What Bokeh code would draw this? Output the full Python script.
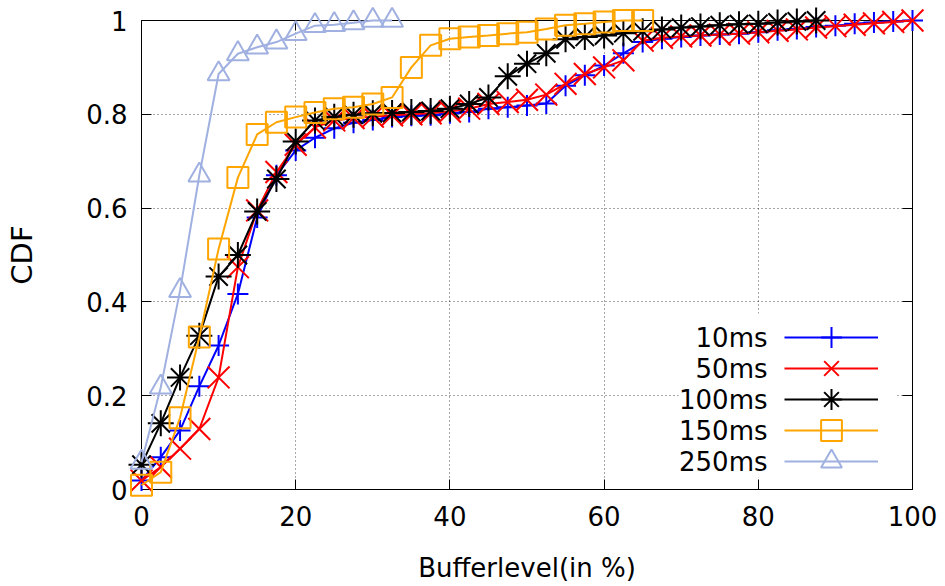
import math
from bokeh.plotting import figure
from bokeh.models import (Range1d, FixedTicker, LinearAxis, Legend, LegendItem,
                          Label, BoxAnnotation, Grid)
from bokeh.embed import file_html
from bokeh.resources import INLINE

# ---------------- data ----------------
buffer_level = [0, 2.5, 5, 7.5, 10, 12.5, 15, 17.5, 20, 22.5, 25, 27.5, 30, 32.5,
                35, 37.5, 40, 42.5, 45, 47.5, 50, 52.5, 55, 57.5, 60, 62.5, 65,
                67.5, 70, 72.5, 75, 77.5, 80, 82.5, 85, 87.5, 90, 92.5, 95, 97.5, 100]

cdf_10ms = [0.019, 0.069, 0.126, 0.220, 0.307, 0.417, 0.580, 0.670, 0.723, 0.750,
            0.770, 0.782, 0.788, 0.794, 0.797, 0.798, 0.802, 0.805, 0.812, 0.815,
            0.819, 0.823, 0.861, 0.883, 0.904, 0.930, 0.954, 0.961, 0.965, 0.968,
            0.970, 0.972, 0.975, 0.979, 0.982, 0.986, 0.989, 0.993, 0.996, 0.998, 1.000]
cdf_50ms = [0.019, 0.048, 0.087, 0.129, 0.239, 0.474, 0.595, 0.677, 0.735, 0.772,
            0.787, 0.792, 0.795, 0.798, 0.800, 0.802, 0.806, 0.812, 0.822, 0.826,
            0.831, 0.842, 0.865, 0.886, 0.900, 0.915, 0.957, 0.963, 0.966, 0.968,
            0.970, 0.972, 0.975, 0.978, 0.981, 0.985, 0.988, 0.991, 0.994, 0.997, 1.000]
cdf_100ms = [0.053, 0.141, 0.239, 0.328, 0.454, 0.500, 0.593, 0.662, 0.742, 0.787,
             0.795, 0.799, 0.802, 0.803, 0.805, 0.807, 0.812, 0.822, 0.836, 0.881,
             0.908, 0.930, 0.960, 0.965, 0.968, 0.973, 0.977, 0.981, 0.985, 0.987,
             0.990, 0.992, 0.993, 0.996, 0.998, 1.000]
cdf_150ms = [0.009, 0.037, 0.153, 0.325, 0.513, 0.665, 0.757, 0.783, 0.794, 0.804,
             0.812, 0.815, 0.822, 0.836, 0.900, 0.947, 0.961, 0.965, 0.968, 0.972,
             0.975, 0.982, 0.990, 0.993, 0.997, 1.000, 1.000]
cdf_250ms = [0.058, 0.218, 0.424, 0.670, 0.886, 0.929, 0.943, 0.954, 0.972, 0.989,
             0.991, 0.995, 1.000, 1.000]

series_names = ["10ms", "50ms", "100ms", "150ms", "250ms"]
series_values = [cdf_10ms, cdf_50ms, cdf_100ms, cdf_150ms, cdf_250ms]

x_ticks = [0, 20, 40, 60, 80, 100]
y_ticks = [0, 0.2, 0.4, 0.6, 0.8, 1]
y_tick_labels = ["0", "0.2", "0.4", "0.6", "0.8", "1"]
x_title = "Bufferlevel(in %)"
y_title = "CDF"

# ---------------- style ----------------
colors = ["#0000ff", "#ff0000", "#000000", "#ffa500", "#a0b0e0"]
markers = ["cross", "x", "asterisk", "square", "triangle"]
marker_sizes = [21, 31, 26, 21, 22]
FONT = "DejaVu Sans"

W, H = 945, 586
L, R, T, B = 141, 912, 20, 489   # axis box in canvas pixels
PAD = 16                           # extra frame so edge markers are not clipped
xpp = 100.0 / (R - L)
ypp = 1.0 / (B - T)
TICK = 10                          # inward tick length, px
FL, FB = L - PAD, B + PAD          # frame left / bottom in canvas px

p = figure(width=W, height=H, output_backend="svg", toolbar_location=None,
           x_range=Range1d(-PAD * xpp, 100 + PAD * xpp),
           y_range=Range1d(-PAD * ypp, 1 + PAD * ypp),
           x_axis_location=None, y_axis_location=None,
           min_border_left=FL, min_border_right=W - R - PAD,
           min_border_top=T - PAD, min_border_bottom=H - FB)
p.outline_line_color = None
p.background_fill_color = "white"
p.border_fill_color = "white"

# label-only axes at the frame edges
xb = LinearAxis(ticker=FixedTicker(ticks=x_ticks), axis_label=x_title,
                axis_line_color=None, major_tick_line_color=None,
                minor_tick_line_color=None, major_tick_in=0, major_tick_out=0,
                major_label_standoff=0,
                major_label_text_font=FONT, major_label_text_font_size="26px",
                major_label_text_color="black",
                axis_label_text_font=FONT, axis_label_text_font_size="26px",
                axis_label_text_font_style="normal", axis_label_text_color="black",
                axis_label_standoff=24)
yl = LinearAxis(ticker=FixedTicker(ticks=y_ticks), axis_label=y_title,
                axis_line_color=None, major_tick_line_color=None,
                minor_tick_line_color=None, major_tick_in=0, major_tick_out=0,
                major_label_standoff=PAD - (L - 123),
                major_label_overrides=dict(zip(y_ticks, y_tick_labels)),
                major_label_text_font=FONT, major_label_text_font_size="26px",
                major_label_text_color="black",
                axis_label_text_font=FONT, axis_label_text_font_size="29px",
                axis_label_text_font_style="normal", axis_label_text_color="black",
                axis_label_standoff=44)
p.add_layout(xb, "below")
p.add_layout(yl, "left")

# dotted grid restricted to the axis box
p.xgrid.ticker = FixedTicker(ticks=x_ticks)
p.ygrid.ticker = FixedTicker(ticks=y_ticks)
for g in (p.xgrid, p.ygrid):
    g.grid_line_color = "#222222"
    g.grid_line_alpha = 0.8
    g.grid_line_width = 1
    g.grid_line_dash = "1 3"
p.xgrid.cross_bounds = (0, 1)
p.ygrid.cross_bounds = (0, 100)

# border box and inward ticks, drawn as short solid grid segments
x_lo, x_hi = x_ticks[0], x_ticks[-1]
y_lo, y_hi = y_ticks[0], y_ticks[-1]
solid = dict(grid_line_color="black", grid_line_width=1, level="underlay")
p.add_layout(Grid(dimension=0, ticker=FixedTicker(ticks=[x_lo, x_hi]),
                  cross_bounds=(y_lo, y_hi), **solid))
p.add_layout(Grid(dimension=1, ticker=FixedTicker(ticks=[y_lo, y_hi]),
                  cross_bounds=(x_lo, x_hi), **solid))
p.add_layout(Grid(dimension=0, ticker=FixedTicker(ticks=x_ticks),
                  cross_bounds=(y_lo, y_lo + TICK * ypp), **solid))
p.add_layout(Grid(dimension=0, ticker=FixedTicker(ticks=x_ticks),
                  cross_bounds=(y_hi - TICK * ypp, y_hi), **solid))
p.add_layout(Grid(dimension=1, ticker=FixedTicker(ticks=y_ticks),
                  cross_bounds=(x_lo, x_lo + TICK * xpp), **solid))
p.add_layout(Grid(dimension=1, ticker=FixedTicker(ticks=y_ticks),
                  cross_bounds=(x_hi - TICK * xpp, x_hi), **solid))

# key background (opaque key)
key_box = BoxAnnotation(left=678 - FL, right=895 - FL,
                        bottom=FB - 477, top=FB - 313,
                        left_units="screen", right_units="screen",
                        top_units="screen", bottom_units="screen",
                        fill_color="white", fill_alpha=1.0, line_color=None)
p.add_layout(key_box)

ROW = 31          # key row pitch
GH = 52           # glyph box height (legend marker size ~ 0.4 * GH)
first_center = 337

for i, (name, vals, c, m, s) in enumerate(zip(series_names, series_values, colors,
                                              markers, marker_sizes)):
    xs = buffer_level[:len(vals)]
    lr = p.line(xs, vals, line_color=c, line_width=2)
    sr = p.scatter(xs, vals, marker=m, size=s, line_color=c, line_width=2,
                   fill_color=None)
    center = first_center + i * ROW
    leg = Legend(items=[LegendItem(label=" ", renderers=[lr, sr])],
                 location=(784 - FL, FB - (center + GH / 2)),
                 orientation="vertical", glyph_width=94, glyph_height=GH,
                 label_width=0, label_height=0, label_standoff=0,
                 label_text_font_size="1px", spacing=0, padding=0, margin=0,
                 border_line_color=None, background_fill_alpha=0)
    p.add_layout(leg)
    p.add_layout(Label(x=767 - FL, y=FB - center,
                       x_units="screen", y_units="screen", text=name,
                       text_align="right", text_baseline="middle",
                       text_font=FONT, text_font_size="26px", text_color="black"))

open("out.html", "w").write(file_html(p, INLINE))
